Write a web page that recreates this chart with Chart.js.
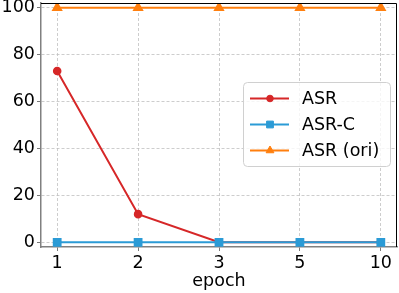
<!DOCTYPE html>
<html>
<head>
<meta charset="utf-8">
<script src="https://cdn.jsdelivr.net/npm/chart.js@4"></script>
<style>
  html, body { margin: 0; padding: 0; background: #fff; }
  #wrap { width: 399px; height: 293px; }
</style>
</head>
<body>
<div id="wrap"><canvas id="myChart" width="399" height="293"></canvas></div>
<script>
// data
const epochs = ['1', '2', '3', '5', '10'];
const asr = [73, 12, 0, 0, 0];
const asrC = [0, 0, 0, 0, 0];
const asrOri = [100, 100, 100, 100, 100];
const yTicks = [0, 20, 40, 60, 80, 100];
const seriesNames = ['ASR', 'ASR-C', 'ASR (ori)'];
const seriesColors = ['#d62728', '#2b9bd6', '#ff7f0e'];
const seriesMarkers = ['circle', 'rect', 'triangle'];

const FONT = 'DejaVu Sans';
const FSIZE = 17.5;

function toPoints(values) {
    return values.map((v, i) => ({ x: i, y: v }));
}

// little legend box inside the plot, like matplotlib's
const boxLegend = {
    id: 'boxLegend',
    afterDatasetsDraw(chart) {
        const ctx = chart.ctx;
        const x0 = 243.5, y0 = 82.5, w = 147, h = 84;
        ctx.save();
        ctx.beginPath();
        ctx.roundRect(x0, y0, w, h, 4);
        ctx.fillStyle = 'rgba(255,255,255,0.8)';
        ctx.fill();
        ctx.strokeStyle = '#d0d0d0';
        ctx.lineWidth = 1;
        ctx.stroke();

        chart.data.datasets.forEach((ds, i) => {
            const cy = y0 + 16 + i * 26;
            ctx.strokeStyle = ds.borderColor;
            ctx.fillStyle = ds.borderColor;
            ctx.lineWidth = 2;
            ctx.beginPath();
            ctx.moveTo(250, cy);
            ctx.lineTo(289, cy);
            ctx.stroke();
            ctx.lineWidth = 1;
            Chart.helpers.drawPoint(ctx, {
                pointStyle: ds.pointStyle,
                radius: ds.pointRadius,
                borderWidth: 1
            }, 270, cy);
            ctx.fillStyle = '#000';
            ctx.font = FSIZE + 'px "' + FONT + '"';
            ctx.textBaseline = 'middle';
            ctx.textAlign = 'left';
            ctx.fillText(ds.label, 302, cy + 1);
        });
        ctx.restore();
    }
};

// top and right spines
const frame = {
    id: 'frame',
    afterDraw(chart) {
        const a = chart.chartArea;
        const ctx = chart.ctx;
        ctx.save();
        ctx.strokeStyle = '#000';
        ctx.lineWidth = 1;
        ctx.beginPath();
        ctx.moveTo(a.left, a.top + 0.5);
        ctx.lineTo(a.right - 0.5, a.top + 0.5);
        ctx.lineTo(a.right - 0.5, a.bottom);
        ctx.stroke();
        ctx.restore();
    }
};

const datasets = [asr, asrC, asrOri].map((vals, i) => ({
    label: seriesNames[i],
    data: toPoints(vals),
    borderColor: seriesColors[i],
    backgroundColor: seriesColors[i],
    pointBackgroundColor: seriesColors[i],
    pointBorderColor: seriesColors[i],
    pointStyle: seriesMarkers[i],
    pointRadius: [3.3, 4.8, 4.5][i],
    borderWidth: 2,
    order: 3 - i
}));

const gridOpts = {
    color: '#c0c0c0',
    lineWidth: 0.8,
    tickBorderDash: [],
    tickColor: '#555',
    tickLength: 4
};

const config = {
    type: 'line',
    data: { datasets: datasets },
    options: {
        responsive: false,
        animation: false,
        layout: { autoPadding: false, padding: { top: 3, right: 2, left: 0, bottom: 0 } },
        plugins: {
            legend: { display: false },
            tooltip: { enabled: false }
        },
        scales: {
            x: {
                type: 'linear',
                min: -0.2,
                max: 4.2,
                afterBuildTicks: (scale) => {
                    scale.ticks = epochs.map((e, i) => ({ value: i }));
                },
                afterFit: (scale) => {
                    scale.height = 46;
                    scale.paddingLeft = 0;
                    scale.paddingRight = 0;
                },
                ticks: {
                    autoSkip: false,
                    maxRotation: 0,
                    padding: 2,
                    color: '#000',
                    font: { family: FONT, size: FSIZE },
                    callback: (v) => epochs[v]
                },
                grid: gridOpts,
                border: { color: '#808080', width: 1.5, dash: [3, 2] },
                title: {
                    display: true,
                    text: 'epoch',
                    color: '#000',
                    font: { family: FONT, size: FSIZE },
                    padding: { top: 0, bottom: 1 }
                }
            },
            y: {
                type: 'linear',
                min: -2,
                max: 102,
                afterBuildTicks: (scale) => {
                    scale.ticks = yTicks.map(v => ({ value: v }));
                },
                afterFit: (scale) => {
                    scale.width = 41;
                    scale.paddingTop = 0;
                    scale.paddingBottom = 0;
                },
                ticks: {
                    padding: 2,
                    color: '#000',
                    font: { family: FONT, size: FSIZE }
                },
                grid: gridOpts,
                border: { color: '#808080', width: 1.5, dash: [3, 2] }
            }
        }
    },
    plugins: [boxLegend, frame]
};

let myChart = new Chart(document.getElementById('myChart'), config);
</script>
</body>
</html>
